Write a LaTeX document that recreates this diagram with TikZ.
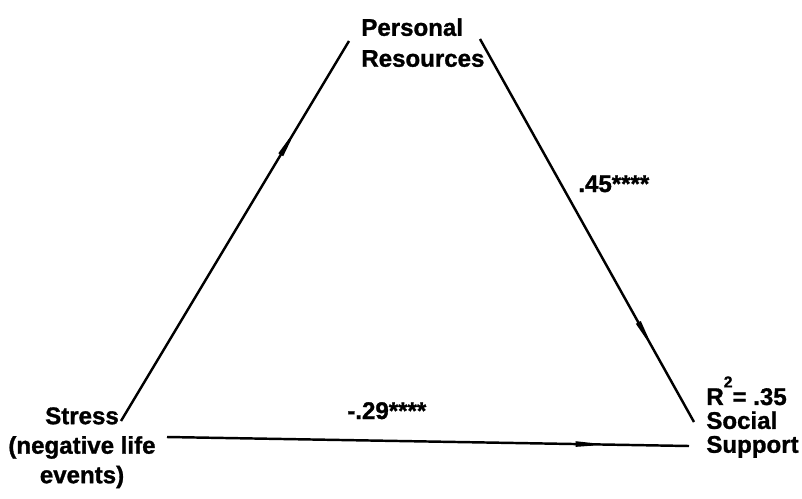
\documentclass[tikz,border=0pt]{standalone}
\usepackage{fontspec}
\setmainfont{Liberation Sans}[BoldFeatures={FakeBold=1.2}]
\usetikzlibrary{arrows.meta,decorations.markings}

\tikzset{
  effect/.style={line width=1.4pt, postaction={decorate},
    decoration={markings, mark=at position #1 with {\arrow{Stealth[length=20pt,width=2.8pt,inset=0pt]}}}},
  lbl/.style={font=\bfseries\fontsize{13.7}{#1}\selectfont, inner sep=0pt},
}

\begin{document}
\begin{tikzpicture}[x=0.02cm,y=-0.02cm]
  \useasboundingbox (0,0) rectangle (802,498);
  % line ends
  \coordinate (S1) at (121,421);
  \coordinate (S2) at (167,437);
  \coordinate (P1) at (349,41);
  \coordinate (P2) at (480,39);
  \coordinate (Q1) at (694,422);
  \coordinate (Q2) at (689,446);
  % paths
  \draw[effect=0.78] (S1) -- (P1);
  \draw[effect=0.82] (P2) -- (Q1);
  \draw[effect=0.85] (S2) -- (Q2);
  % variables
  \node[lbl=16.8,anchor=north,align=center] (stress) at (82,407) {Stress\\(negative life\\events)};
  \node[lbl=17.6,anchor=north west,align=left] (resources) at (361,18) {Personal\\Resources};
  \node[lbl=13.6,anchor=north west,align=left] (support) at (706,376)
    {R\raisebox{10pt}{\fontsize{9}{9}\selectfont 2}= .35\\Social\\Support};
  % coefficients
  \node[lbl=16.8,anchor=base west] (c45) at (578,192) {.45****};
  \node[lbl=16.8,anchor=base west] (c29) at (347,419) {-.29****};
\end{tikzpicture}
\end{document}
